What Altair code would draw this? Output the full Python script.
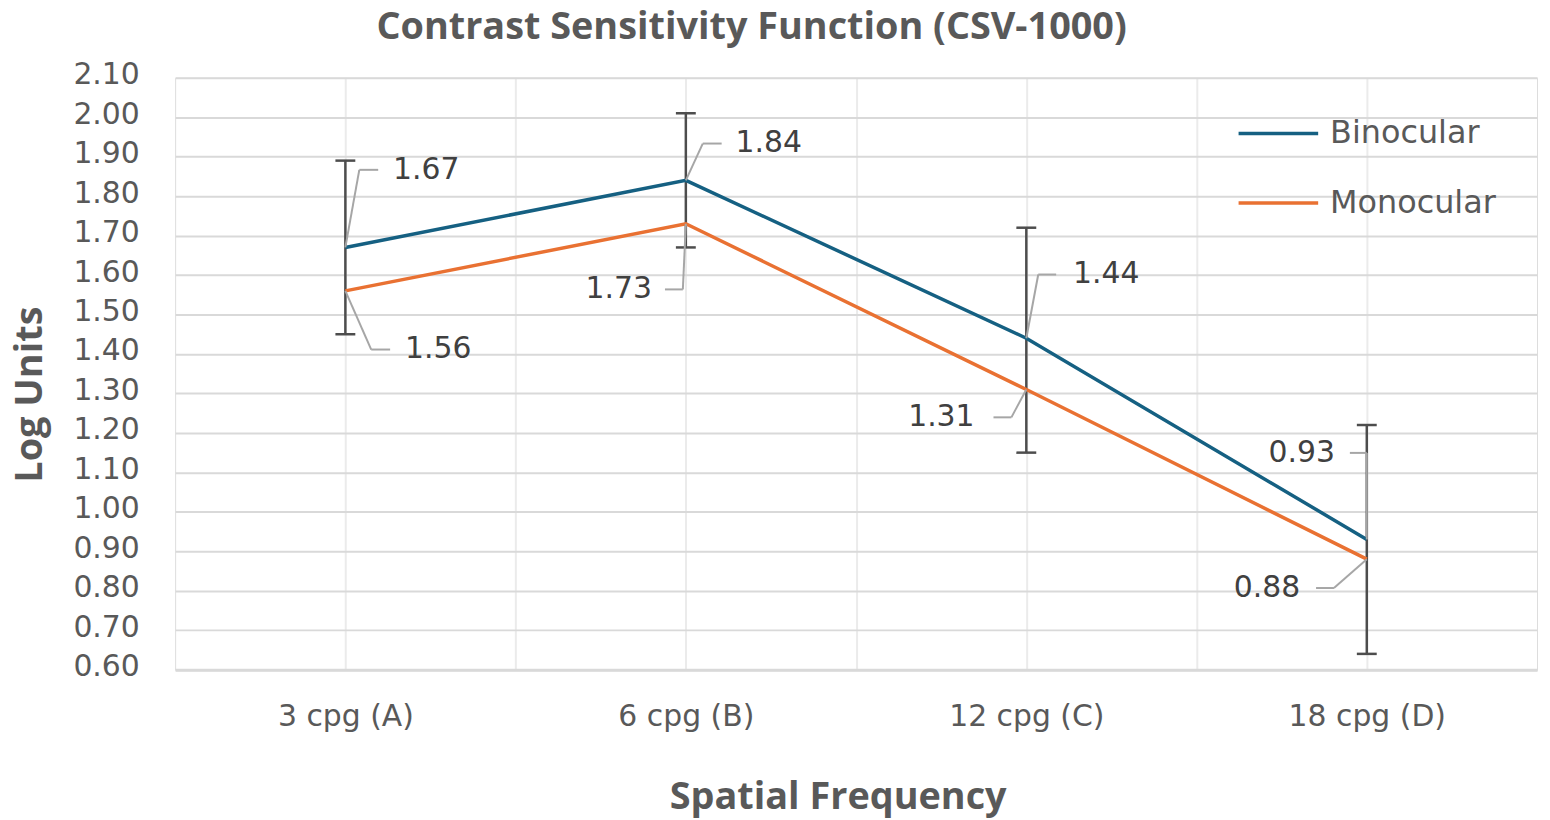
import json
import altair as alt
import pandas as pd

# ---------------- data ----------------
categories = ["3 cpg (A)", "6 cpg (B)", "12 cpg (C)", "18 cpg (D)"]
series_names = ["Binocular", "Monocular"]
binocular = [1.67, 1.84, 1.44, 0.93]
monocular = [1.56, 1.73, 1.31, 0.88]
bino_err_low = [1.45, 1.67, 1.15, 0.64]
bino_err_high = [1.89, 2.01, 1.72, 1.22]
y_ticks = [0.6, 0.7, 0.8, 0.9, 1.0, 1.1, 1.2, 1.3, 1.4, 1.5, 1.6, 1.7, 1.8, 1.9, 2.0, 2.1]

rows = []
for i, c in enumerate(categories):
    rows.append({"idx": i, "cat": c, "series": series_names[0], "value": binocular[i]})
    rows.append({"idx": i, "cat": c, "series": series_names[1], "value": monocular[i]})
df = pd.DataFrame(rows)
err = pd.DataFrame({"idx": list(range(len(categories))), "lo": bino_err_low, "hi": bino_err_high})

# ---------------- styles ----------------
COL_B = "#156082"
COL_M = "#E97132"
TXT = "#595959"
LBL = "#404040"
LEADER = "#a6a6a6"
ERRC = "#4d4d4d"
NUMFONT = "DejaVu Sans"
TFONT = "Open Sans"

# data label placement (pixel offsets from the point): elbow, end of horizontal, text
label_layout = {
    ("Binocular", 0): dict(ex=14, ey=-78, hx=33, tx=48, align="left"),
    ("Monocular", 0): dict(ex=26, ey=59, hx=45, tx=60, align="left"),
    ("Binocular", 1): dict(ex=17, ey=-37, hx=36, tx=50, align="left"),
    ("Monocular", 1): dict(ex=-3, ey=66, hx=-21, tx=-34, align="right"),
    ("Binocular", 2): dict(ex=12, ey=-64, hx=30, tx=47, align="left"),
    ("Monocular", 2): dict(ex=-15, ey=28, hx=-33, tx=-52, align="right"),
    ("Binocular", 3): dict(ex=0, ey=-87, hx=-17, tx=-32, align="right"),
    ("Monocular", 3): dict(ex=-33, ey=29, hx=-51, tx=-67, align="right"),
}

xscale = alt.Scale(domain=[-0.5, len(categories) - 0.5], nice=False, zero=False)
yscale = alt.Scale(domain=[0.6, 2.1], nice=False, zero=False)

label_expr = "datum.value % 1 == 0 ? " + json.dumps(categories) + "[datum.value] : ''"

xaxis = alt.Axis(
    values=[0, 0.5, 1, 1.5, 2, 2.5, 3],
    labelExpr=label_expr,
    grid=True, gridColor="#ebebeb", gridWidth=2,
    ticks=False,
    domain=True, domainColor="#d9d9d9", domainWidth=3,
    labelFont=NUMFONT, labelFontSize=30, labelColor=TXT,
    labelBaseline="alphabetic", labelPadding=56,
    labelFlush=False, labelOverlap=False,
    titleFont=TFONT, titleFontSize=38, titleFontWeight="bold", titleColor=TXT,
    titleX=666, titleY=140, titleBaseline="alphabetic", titleAlign="center",
)
yaxis = alt.Axis(
    values=y_ticks, format=".2f",
    grid=True, gridColor="#d9d9d9", gridWidth=2,
    ticks=False, domain=False,
    labelFont=NUMFONT, labelFontSize=30, labelColor=TXT, labelPadding=36, labelOffset=-3,
    titleFont=TFONT, titleFontSize=38, titleFontWeight="bold", titleColor=TXT,
    titleX=-134, titleY=318, titleAngle=270, titleBaseline="alphabetic", titleAlign="center",
)

X = alt.X("idx:Q", scale=xscale, axis=xaxis, title="Spatial Frequency")
Y = alt.Y("value:Q", scale=yscale, axis=yaxis, title="Log Units")

base = alt.Chart(df).encode(x=X, y=Y)

# error bars
err_base = alt.Chart(err)
err_rule = err_base.mark_rule(color=ERRC, strokeWidth=2.5).encode(
    x=X, y=alt.Y("lo:Q", scale=yscale, axis=yaxis, title="Log Units"), y2=alt.Y2("hi")
)
cap_hi = err_base.mark_rule(color=ERRC, strokeWidth=2.5, xOffset=-10, x2Offset=10).encode(
    x=X, x2=alt.X2("idx"), y=alt.Y("hi:Q", scale=yscale, axis=yaxis, title="Log Units")
)
cap_lo = err_base.mark_rule(color=ERRC, strokeWidth=2.5, xOffset=-10, x2Offset=10).encode(
    x=X, x2=alt.X2("idx"), y=alt.Y("lo:Q", scale=yscale, axis=yaxis, title="Log Units")
)

lines = base.mark_line(strokeWidth=3.5).encode(
    color=alt.Color(
        "series:N",
        scale=alt.Scale(domain=series_names, range=[COL_B, COL_M]),
        legend=alt.Legend(
            orient="none", legendX=1067, legendY=14, title=None,
            symbolType="stroke", symbolSize=6400, symbolStrokeWidth=3.5,
            labelFont=NUMFONT, labelFontSize=32, labelColor=TXT, labelOffset=10,
            labelLimit=0, rowPadding=12, padding=0,
        ),
    )
)

layers = [err_rule, cap_hi, cap_lo, lines]

for (s, i), L in label_layout.items():
    sel = base.transform_filter(f"datum.series == '{s}' && datum.idx == {i}")
    seg1 = sel.mark_rule(color=LEADER, strokeWidth=2, x2Offset=L["ex"], y2Offset=L["ey"]).encode(
        x2=alt.X2("idx"), y2=alt.Y2("value")
    )
    seg2 = sel.mark_rule(
        color=LEADER, strokeWidth=2,
        xOffset=L["ex"], yOffset=L["ey"], x2Offset=L["hx"], y2Offset=L["ey"],
    ).encode(x2=alt.X2("idx"), y2=alt.Y2("value"))
    txt = sel.mark_text(
        dx=L["tx"], dy=L["ey"], align=L["align"], baseline="middle",
        font=NUMFONT, fontSize=30, color=LBL,
    ).encode(text=alt.Text("value:Q", format=".2f"))
    layers += [seg1, seg2, txt]

chart = alt.layer(*layers).properties(
    width=1369, height=595,
    title=alt.TitleParams(
        "Contrast Sensitivity Function (CSV-1000)",
        font=TFONT, fontSize=38, fontWeight="bold", color=TXT,
        anchor="middle", frame="group", dx=-105, dy=17, offset=0, baseline="alphabetic",
    ),
    autosize=alt.AutoSizeParams(type="none"),
    padding={"left": 168, "top": 68, "right": 5, "bottom": 149},
).configure_view(stroke="#8c8c8c", strokeWidth=2).configure(background="white")

chart.save("out.html", embed_options={"renderer": "svg", "actions": False})
